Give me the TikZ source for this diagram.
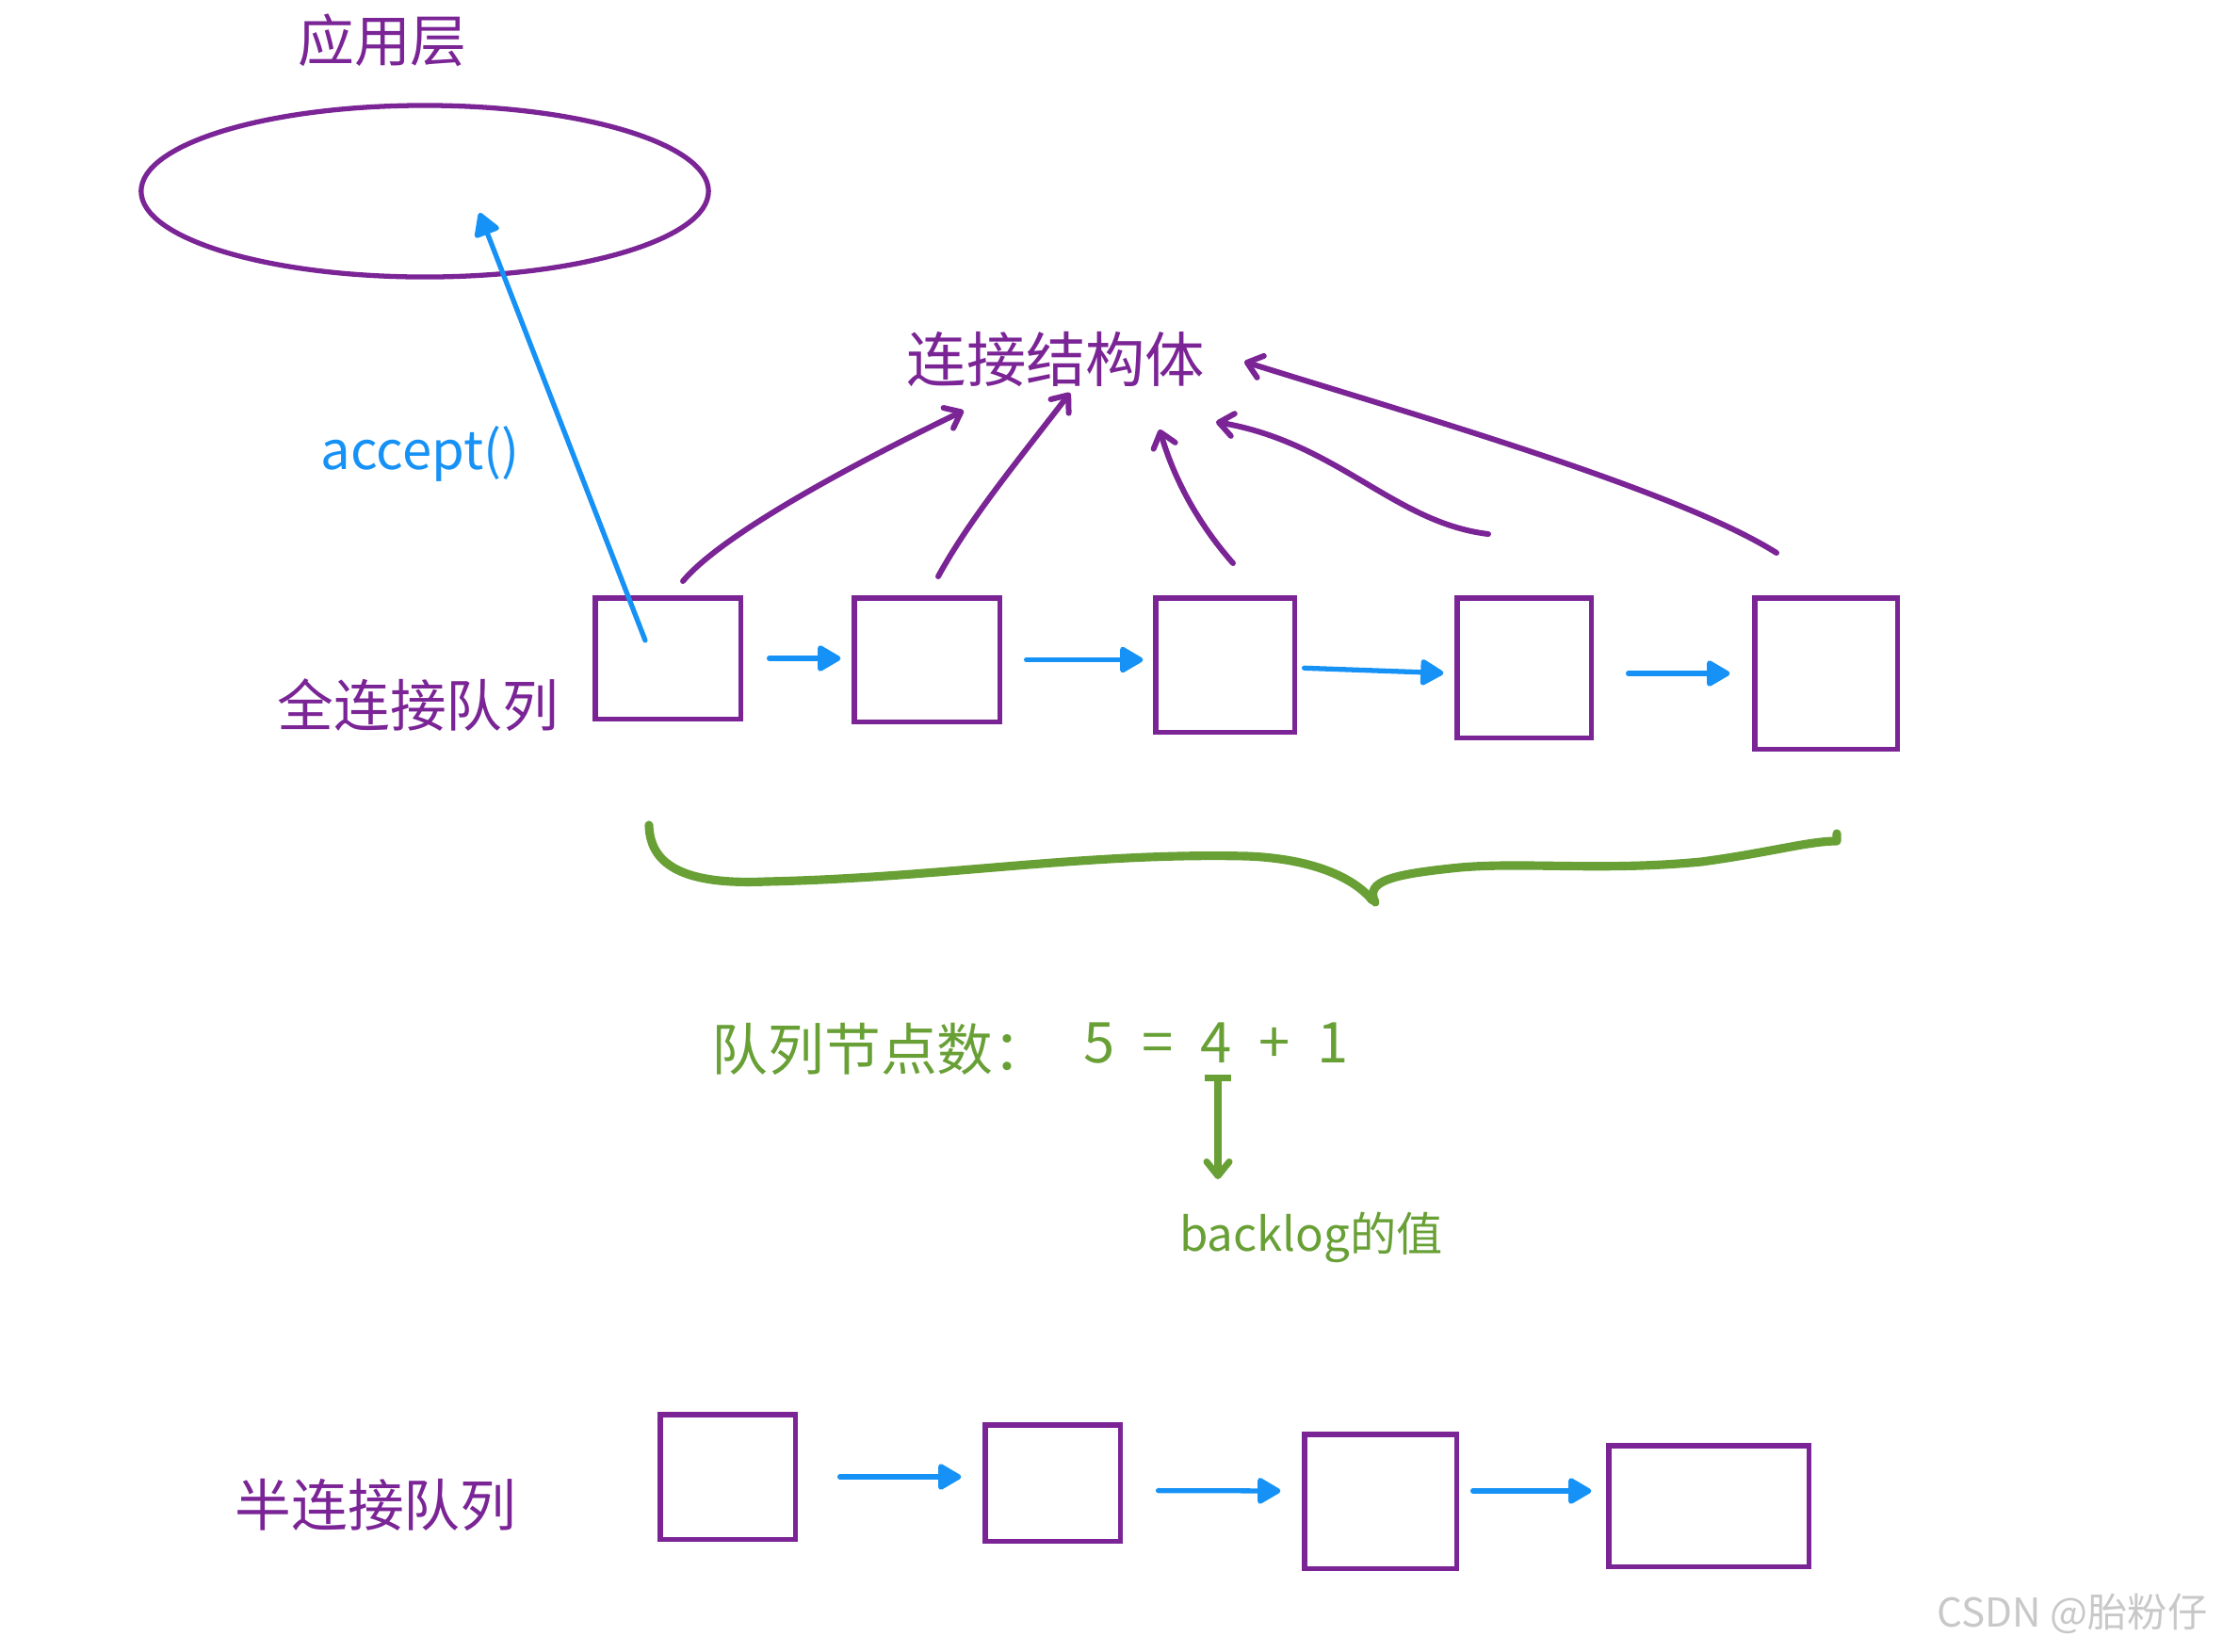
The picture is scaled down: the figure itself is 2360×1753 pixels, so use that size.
\documentclass[tikz,border=0pt]{standalone}
\usepackage{fontspec}
\setmainfont{Noto Sans CJK SC}
\usetikzlibrary{shapes.geometric,arrows.meta,calc}
\definecolor{pp}{RGB}{122,36,150}
\definecolor{bl}{RGB}{22,146,246}
\definecolor{gr}{RGB}{104,160,54}
\definecolor{wm}{RGB}{200,200,200}
\begin{document}
\begin{tikzpicture}[x=0.01cm,y=-0.01cm,
  qbox/.style={draw=pp,line width=1.45pt,inner sep=0pt},
  barrow/.style={draw=bl,line width=1.5pt,line cap=round,-{Triangle[length=0.27cm,width=0.3cm,round]}},
  parrow/.style={draw=pp,line width=1.7pt,line cap=round,-{Straight Barb[length=0.15cm,width=0.24cm,round]}},
  ptext/.style={text=pp,font=\fontsize{17}{20}\selectfont},
  gtext/.style={text=gr,font=\fontsize{17}{20}\selectfont}]
\fill[white] (0,0) rectangle (2360,1753);
\useasboundingbox (0,0) rectangle (2360,1753);

% application layer
\node[ellipse,draw=pp,line width=1.5pt,minimum width=6.02cm,minimum height=1.82cm] (app) at (451,203) {};
\node[ptext] (applbl) at (406,43) {应用层};

% full connection queue
\node[qbox,minimum width=1.54cm,minimum height=1.28cm] (q1) at (709,699) {};
\node[qbox,minimum width=1.54cm,minimum height=1.31cm] (q2) at (984,700.5) {};
\node[qbox,minimum width=1.47cm,minimum height=1.42cm] (q3) at (1300.5,706) {};
\node[qbox,minimum width=1.42cm,minimum height=1.48cm] (q4) at (1618,709) {};
\node[qbox,minimum width=1.51cm,minimum height=1.60cm] (q5) at (1938.5,715) {};
\node[ptext] (fullq) at (444,749) {全连接队列};

\draw[barrow,shorten <=0.28cm,shorten >=0.12cm] (q1.east) -- (q2.west |- q1.east);
\draw[barrow,shorten <=0.26cm,shorten >=0.11cm] (q2.east) -- (q3.west |- q2.east);
\draw[barrow,shorten <=0.08cm,shorten >=0.12cm] ($(q3.east)+(0,3)$) -- ($(q4.west)+(0,6)$);
\draw[barrow,shorten <=0.37cm,shorten >=0.24cm] ($(q4.east)+(0,6)$) -- (q5.west);

% accept
\coordinate (accs) at (685,680);
\coordinate (acce) at (509,226);
\draw[barrow] (accs) -- (acce);
\node[text=bl,font=\fontsize{16}{19}\selectfont] (acc) at (446,482) {accept()};

% connection struct
\node[ptext,font=\fontsize{18}{21}\selectfont] (conn) at (1121,381) {连接结构体};
\coordinate (pa) at (725,617);
\coordinate (pb) at (996,612);
\coordinate (pc) at (1309,598);
\coordinate (pd) at (1580,567);
\coordinate (pe) at (1886,587);
\coordinate (ta) at (1023,436);
\coordinate (tb) at (1136,417);
\coordinate (tc) at (1231,456);
\coordinate (td) at (1291,448);
\coordinate (te) at (1321,384);
\draw[parrow] (pa) .. controls (760,575) and (870,510) .. (ta);
\draw[parrow] (pb) .. controls (1030,550) and (1080,490) .. (tb);
\draw[parrow] (pc) .. controls (1280,565) and (1250,520) .. (tc);
\draw[parrow] (pd) .. controls (1480,555) and (1420,470) .. (td);
\draw[parrow] (pe) .. controls (1780,520) and (1500,440) .. (te);

% brace
\draw[gr,line width=2.6pt,line cap=round,line join=round]
  (689,876) .. controls (690,915) and (720,940) .. (813,936)
  .. controls (1000,932) and (1150,905) .. (1324,909)
  .. controls (1400,912) and (1440,935) .. (1457,956);
\draw[gr,line width=2.6pt,line cap=round,line join=round]
  (1460,958) .. controls (1448,935) and (1480,928) .. (1550,921)
  .. controls (1620,915) and (1700,925) .. (1806,915)
  .. controls (1880,905) and (1920,893) .. (1950,893) -- (1950,885);

% count
\node[gtext] (cnt) at (935,1114) {队列节点数：};
\node[gtext,inner sep=0pt] (eq) at (1291,1108) {\makebox[0.62cm]{5}\makebox[0.62cm]{=}\makebox[0.62cm]{4}\makebox[0.62cm]{+}\makebox[0.62cm]{1}};
\coordinate (gb) at (1293,1141);
\coordinate (ge) at (1293,1252);
\draw[gr,line width=2pt,line cap=round,{Bar[width=0.28cm]}-{Straight Barb[length=0.15cm,width=0.24cm,round]}] (gb) -- (ge);
\node[text=gr,font=\fontsize{14}{17}\selectfont] (bkl) at (1392,1314) {backlog的值};

% half connection queue
\node[qbox,minimum width=1.43cm,minimum height=1.32cm] (h1) at (772.5,1568) {};
\node[qbox,minimum width=1.43cm,minimum height=1.23cm] (h2) at (1117.5,1574.5) {};
\node[qbox,minimum width=1.61cm,minimum height=1.42cm] (h3) at (1465.5,1594) {};
\node[qbox,minimum width=2.12cm,minimum height=1.28cm] (h4) at (1814,1599) {};
\node[ptext] (halfq) at (399,1598) {半连接队列};
\draw[barrow,shorten <=0.45cm,shorten >=0.23cm] (h1.east) -- (h2.west |- h1.east);
\draw[barrow,shorten <=0.38cm,shorten >=0.23cm] ($(h2.east)+(0,8)$) -- ($(h3.west)+(0,-11)$);
\draw[barrow,shorten <=0.15cm,shorten >=0.16cm] ($(h3.east)+(0,-11)$) -- ($(h4.west)+(0,-16)$);

% watermark
\node[text=wm,font=\fontsize{12}{14}\selectfont] (wmk) at (2200,1713) {CSDN @胎粉仔};
\end{tikzpicture}
\end{document}
